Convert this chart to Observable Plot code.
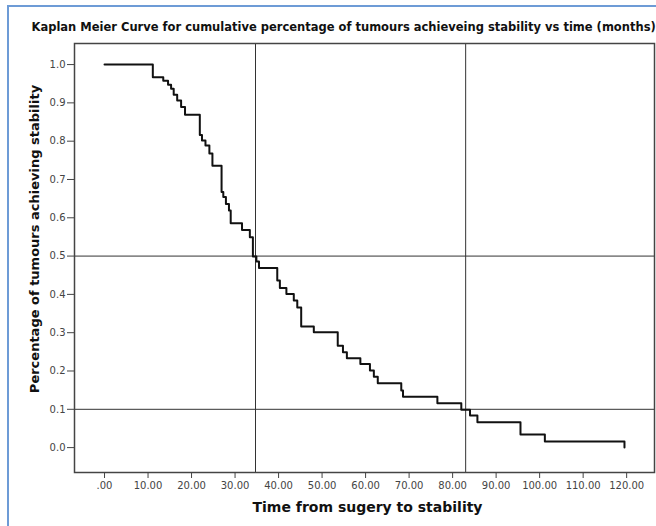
<!DOCTYPE html>
<html>
<head>
<meta charset="utf-8">
<script src="https://cdn.jsdelivr.net/npm/d3@7"></script>
<script src="https://cdn.jsdelivr.net/npm/@observablehq/plot@0.6"></script>
<style>
  html, body { margin: 0; padding: 0; background: #fff; }
  #wrap { position: relative; width: 656px; height: 526px; overflow: hidden; background: #fff; }
  #border { position: absolute; left: 7px; top: 5px; width: 800px; height: 700px; border: 2px solid #6d9bd6; box-sizing: border-box; }
  #chart { position: absolute; left: 0; top: 0; }
</style>
</head>
<body>
<div id="wrap"><div id="border"></div><div id="chart"></div></div>
<script>
const titleText = "Kaplan Meier Curve for cumulative percentage of tumours achieveing stability vs time (months)";
const xLabel = "Time from sugery to stability";
const yLabel = "Percentage of tumours achieving stability";

// Kaplan-Meier step points (time of drop, new cumulative value)
const times = [0, 11.1, 13.5, 14.6, 15.3, 15.9, 16.7, 17.6, 18.5, 21.9, 22.4, 23.2, 24.1, 24.8,
  26.9, 27.3, 27.9, 28.6, 29.0, 31.6, 33.4, 34.1, 34.9, 35.5, 39.7, 40.3, 41.8, 43.5, 44.3, 45.2,
  48.1, 53.6, 54.8, 55.7, 58.8, 61.0, 61.9, 62.8, 68.2, 68.6, 76.5, 82.0, 84.0, 85.7, 95.6, 101.2, 119.5];
const survival = [1.0, 0.967, 0.958, 0.947, 0.937, 0.921, 0.906, 0.889, 0.869, 0.816, 0.802, 0.789, 0.768, 0.736,
  0.667, 0.654, 0.636, 0.619, 0.586, 0.568, 0.549, 0.499, 0.486, 0.469, 0.436, 0.417, 0.401, 0.384, 0.366, 0.316,
  0.301, 0.266, 0.249, 0.233, 0.218, 0.201, 0.185, 0.168, 0.149, 0.133, 0.116, 0.099, 0.084, 0.066, 0.034, 0.016, 0.0];

const refTimes = [34.7, 83.0];
const refLevels = [0.5, 0.1];
const xTicks = [0, 10, 20, 30, 40, 50, 60, 70, 80, 90, 100, 110, 120];
const yTicks = [0, 0.1, 0.2, 0.3, 0.4, 0.5, 0.6, 0.7, 0.8, 0.9, 1.0];

const data = times.map((t, i) => ({t, s: survival[i]}));

const chart = Plot.plot({
  width: 656,
  height: 526,
  marginLeft: 74,
  marginRight: 2,
  marginTop: 43,
  marginBottom: 54,
  style: {fontFamily: "DejaVu Sans, sans-serif", fontSize: "10px", background: "transparent", color: "#333"},
  x: {domain: [-6.9, 126.4]},
  y: {domain: [-0.065, 1.055]},
  marks: [
    Plot.ruleX(refTimes, {stroke: "#333", strokeWidth: 1}),
    Plot.ruleY(refLevels, {stroke: "#333", strokeWidth: 1}),
    Plot.line(data, {x: "t", y: "s", curve: "step-after", stroke: "#111", strokeWidth: 2}),
    Plot.frame({stroke: "#444", strokeWidth: 1.5}),
    Plot.axisX({ticks: xTicks, tickFormat: d => d === 0 ? ".00" : d.toFixed(2), tickSize: 6, tickPadding: 3, label: null, stroke: "#444", fill: "#444"}),
    Plot.axisY({ticks: yTicks, tickFormat: d => d.toFixed(1), tickSize: 7, tickPadding: 2, label: null, stroke: "#444", fill: "#444"}),
    Plot.text([titleText], {frameAnchor: "top-left", dx: -43, dy: -16, textAnchor: "start", lineAnchor: "middle", fontWeight: "bold", fontSize: 11.5, fill: "#111"}),
    Plot.text([xLabel], {frameAnchor: "bottom", dx: 3, dy: 35, lineAnchor: "middle", fontWeight: "bold", fontSize: 14, fill: "#111"}),
    Plot.text([yLabel], {frameAnchor: "left", dx: -40, dy: -19, rotate: -90, textAnchor: "middle", lineAnchor: "middle", fontWeight: "bold", fontSize: 13, fill: "#111"})
  ]
});
document.getElementById("chart").appendChild(chart);
</script>
</body>
</html>
